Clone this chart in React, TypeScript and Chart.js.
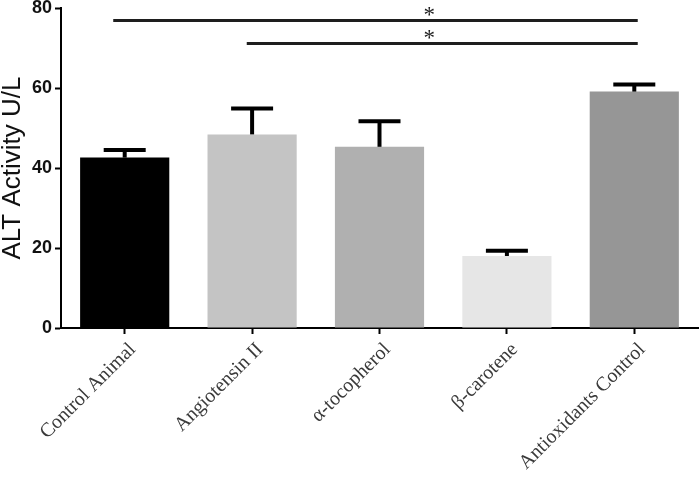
import React, { useEffect, useRef } from 'react';
import { Chart, registerables } from 'chart.js';

Chart.register(...registerables);

// ---- data ----
const categories = ['Control Animal', 'Angiotensin II', 'α-tocopherol', 'β-carotene', 'Antioxidants Control'];
const means = [42.6, 48.4, 45.3, 18.0, 59.1];
const sem = [1.9, 6.5, 6.4, 1.3, 1.8];
const barColors = ['#000000', '#c4c4c4', '#b0b0b0', '#e6e6e6', '#969696'];
const yTicks = [0, 20, 40, 60, 80];
const yTitle = 'ALT Activity U/L';
// significance brackets (category positions, value level)
const sigFrom = [-0.09, 0.958];
const sigTo = [4.027, 4.027];
const sigLevel = [77, 71.25];
const sigStarPos = [2.39, 2.39];
const sigLabel = ['*', '*'];

const errorBarPlugin = {
  id: 'errorBars',
  afterDatasetsDraw(chart: any) {
    const meta = chart.getDatasetMeta(0);
    const y = chart.scales.y;
    const ctx = chart.ctx;
    ctx.save();
    ctx.strokeStyle = '#000';
    ctx.lineWidth = 4;
    ctx.lineCap = 'butt';
    meta.data.forEach((bar: any, i: number) => {
      const x = bar.x;
      const base = y.getPixelForValue(means[i]);
      const top = y.getPixelForValue(means[i] + sem[i]);
      ctx.beginPath();
      ctx.moveTo(x, base);
      ctx.lineTo(x, top);
      ctx.stroke();
      ctx.beginPath();
      ctx.moveTo(x - 21, top);
      ctx.lineTo(x + 21, top);
      ctx.stroke();
    });
    ctx.restore();
  },
};

const sigPlugin = {
  id: 'sigLines',
  afterDraw(chart: any) {
    const xs = chart.scales.x;
    const ys = chart.scales.y;
    const ctx = chart.ctx;
    ctx.save();
    sigLevel.forEach((lvl, i) => {
      const y = Math.round(ys.getPixelForValue(lvl)) + 0.5;
      ctx.strokeStyle = '#1e1e1e';
      ctx.lineWidth = 3;
      ctx.beginPath();
      ctx.moveTo(xs.getPixelForValue(sigFrom[i]), y);
      ctx.lineTo(xs.getPixelForValue(sigTo[i]), y);
      ctx.stroke();
      ctx.fillStyle = '#1e1e1e';
      ctx.font = '23px "Liberation Serif", "Times New Roman", serif';
      ctx.textAlign = 'center';
      ctx.textBaseline = 'middle';
      ctx.fillText(sigLabel[i], xs.getPixelForValue(sigStarPos[i]), y - 5);
    });
    ctx.restore();
  },
};

export default function App() {
  const ref = useRef<HTMLCanvasElement>(null);

  useEffect(() => {
    if (!ref.current) return;
    const chart = new Chart(ref.current, {
      type: 'bar',
      data: {
        labels: categories,
        datasets: [
          {
            data: means,
            backgroundColor: barColors,
            borderWidth: 0,
            barPercentage: 0.7,
            categoryPercentage: 1.0,
          },
        ],
      },
      options: {
        animation: false,
        responsive: false,
        maintainAspectRatio: false,
        layout: { padding: { top: 8, right: 2, left: 0, bottom: 0 } },
        plugins: {
          legend: { display: false },
          tooltip: { enabled: false },
          title: { display: false },
        },
        scales: {
          x: {
            type: 'category',
            grid: {
              display: true,
              drawOnChartArea: false,
              drawTicks: true,
              tickLength: 6,
              tickWidth: 2,
              tickColor: '#000',
              offset: false,
            },
            border: { display: true, color: '#000', width: 2 },
            ticks: {
              minRotation: 45,
              maxRotation: 45,
              autoSkip: false,
              padding: 4,
              labelOffset: 8,
              color: '#3a3a3a',
              font: { family: '"Liberation Serif", "Times New Roman", serif', size: 20 },
            },
            afterFit: (s: any) => {
              s.height = 149;
              s.paddingLeft = 0;
              s.paddingRight = 0;
            },
          },
          y: {
            min: 0,
            max: 80,
            afterBuildTicks: (s: any) => {
              s.ticks = yTicks.map((v) => ({ value: v }));
            },
            grid: {
              display: true,
              drawOnChartArea: false,
              drawTicks: true,
              tickLength: 6,
              tickWidth: 2,
              tickColor: '#000',
            },
            border: { display: true, color: '#000', width: 2 },
            ticks: {
              padding: 3,
              color: '#111',
              font: { family: '"Liberation Sans", Arial, sans-serif', size: 18, weight: 'bold' },
            },
            title: {
              display: true,
              text: yTitle,
              color: '#111',
              padding: { top: 0, bottom: 0 },
              font: { family: '"Liberation Sans", Arial, sans-serif', size: 26, lineHeight: 1 },
            },
            afterFit: (s: any) => {
              s.width = 61;
              s.paddingTop = 0;
              s.paddingBottom = 0;
            },
          },
        },
      },
      plugins: [errorBarPlugin, sigPlugin],
    });
    return () => chart.destroy();
  }, []);

  return (
    <div style={{ position: 'fixed', left: 0, top: 0, width: 700, height: 477, background: '#fff' }}>
      <canvas ref={ref} width={700} height={477} style={{ width: 700, height: 477, display: 'block' }} />
    </div>
  );
}
